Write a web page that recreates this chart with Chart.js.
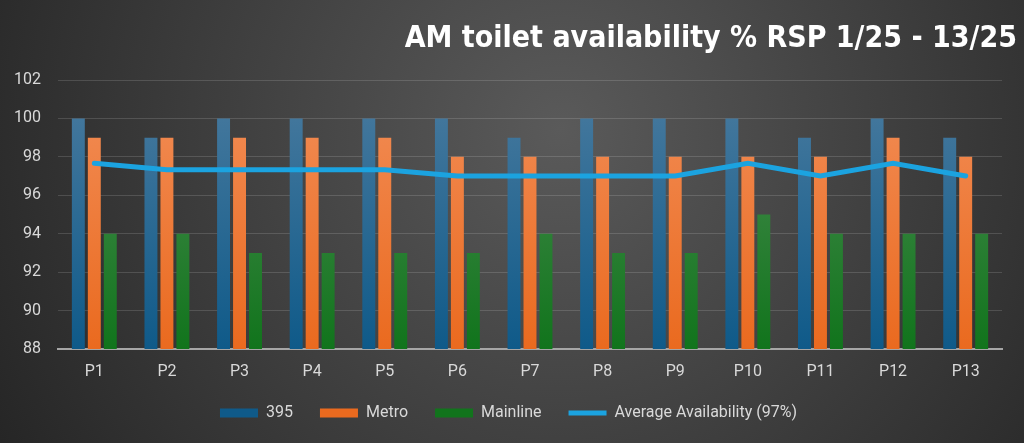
<!DOCTYPE html>
<html>
<head>
<meta charset="utf-8">
<script src="https://cdn.jsdelivr.net/npm/chart.js@4"></script>
<style>
  html, body { margin: 0; padding: 0; background: #2b2b2b; }
  #wrap { width: 1024px; height: 443px; }
</style>
</head>
<body>
<div id="wrap"><canvas id="myChart"></canvas></div>
<script>
const periods = ['P1', 'P2', 'P3', 'P4', 'P5', 'P6', 'P7', 'P8', 'P9', 'P10', 'P11', 'P12', 'P13'];
const route395 = [100, 99, 100, 100, 100, 100, 99, 100, 100, 100, 99, 100, 99];
const metro = [99, 99, 99, 99, 99, 98, 98, 98, 98, 98, 98, 99, 98];
const mainline = [94, 94, 93, 93, 93, 93, 94, 93, 93, 95, 94, 94, 94];
const average = [97.67, 97.33, 97.33, 97.33, 97.33, 97, 97, 97, 97, 97.67, 97, 97.67, 97];

// vertical gradient across the plot area, lighter at the top
function barFill(top, bottom) {
    return (ctx) => {
        const area = ctx.chart.chartArea;
        if (!area) return bottom;
        const g = ctx.chart.ctx.createLinearGradient(0, area.top, 0, area.bottom);
        g.addColorStop(0, top);
        g.addColorStop(1, bottom);
        return g;
    };
}

const backdrop = {
    id: 'backdrop',
    beforeDraw(chart) {
        const { ctx, width, height } = chart;
        const g = ctx.createRadialGradient(560, 130, 0, 560, 130, 640);
        g.addColorStop(0, '#5a5a5a');
        g.addColorStop(1, '#262626');
        ctx.save();
        ctx.fillStyle = g;
        ctx.fillRect(0, 0, width, height);
        ctx.restore();
    },
};

const tickColor = '#d9d9d9';
const tickFont = { family: 'Roboto', size: 16 };

new Chart(document.getElementById('myChart'), {
    type: 'bar',
    data: {
        labels: periods,
        datasets: [
            {
                label: '395',
                data: route395,
                backgroundColor: barFill('#4a7b9f', '#0f5a89'),
                pointStyle: 'rect',
                order: 1,
            },
            {
                label: 'Metro',
                data: metro,
                backgroundColor: barFill('#f28e58', '#ea6a1f'),
                pointStyle: 'rect',
                order: 1,
            },
            {
                label: 'Mainline',
                data: mainline,
                backgroundColor: barFill('#4e8e55', '#11741c'),
                pointStyle: 'rect',
                order: 1,
            },
            {
                type: 'line',
                label: 'Average Availability (97%)',
                data: average,
                borderColor: '#1ba3e0',
                backgroundColor: '#1ba3e0',
                borderWidth: 5,
                borderCapStyle: 'round',
                pointRadius: 0,
                pointStyle: 'line',
                tension: 0,
                order: 0,
            },
        ],
    },
    options: {
        responsive: true,
        maintainAspectRatio: false,
        animation: false,
        layout: { padding: { top: 21, right: 7, bottom: 12, left: 0 } },
        datasets: {
            bar: { categoryPercentage: 0.66, barPercentage: 0.81 },
        },
        scales: {
            x: {
                grid: { display: false, drawTicks: false },
                border: { display: true, color: '#a6a6a6', width: 2 },
                ticks: { color: tickColor, font: tickFont, padding: 13 },
                afterFit(scale) { scale.height = 29; },
            },
            y: {
                min: 88,
                max: 102,
                grid: { color: 'rgba(255,255,255,0.14)', drawTicks: false },
                border: { display: false },
                ticks: { stepSize: 2, color: tickColor, font: tickFont, padding: 17 },
                afterFit(scale) { scale.width = 58; },
            },
            yRight: {
                position: 'right',
                grid: { display: false },
                border: { display: false },
                ticks: { display: false },
                afterFit(scale) { scale.width = 15; },
            },
        },
        plugins: {
            title: {
                display: true,
                text: 'AM toilet availability % RSP 1/25 - 13/25',
                align: 'end',
                color: '#ffffff',
                font: { family: "'DejaVu Sans Condensed', 'Liberation Sans Narrow', sans-serif", size: 30, weight: 'bold' },
                padding: { top: 0, bottom: 23 },
            },
            legend: {
                position: 'bottom',
                labels: {
                    color: tickColor,
                    font: tickFont,
                    usePointStyle: true,
                    pointStyleWidth: 38,
                    boxHeight: 9,
                    padding: 27,
                    sort: (a, b) => a.datasetIndex - b.datasetIndex,
                },
            },
            tooltip: { enabled: false },
        },
    },
    plugins: [backdrop],
});
</script>
</body>
</html>
